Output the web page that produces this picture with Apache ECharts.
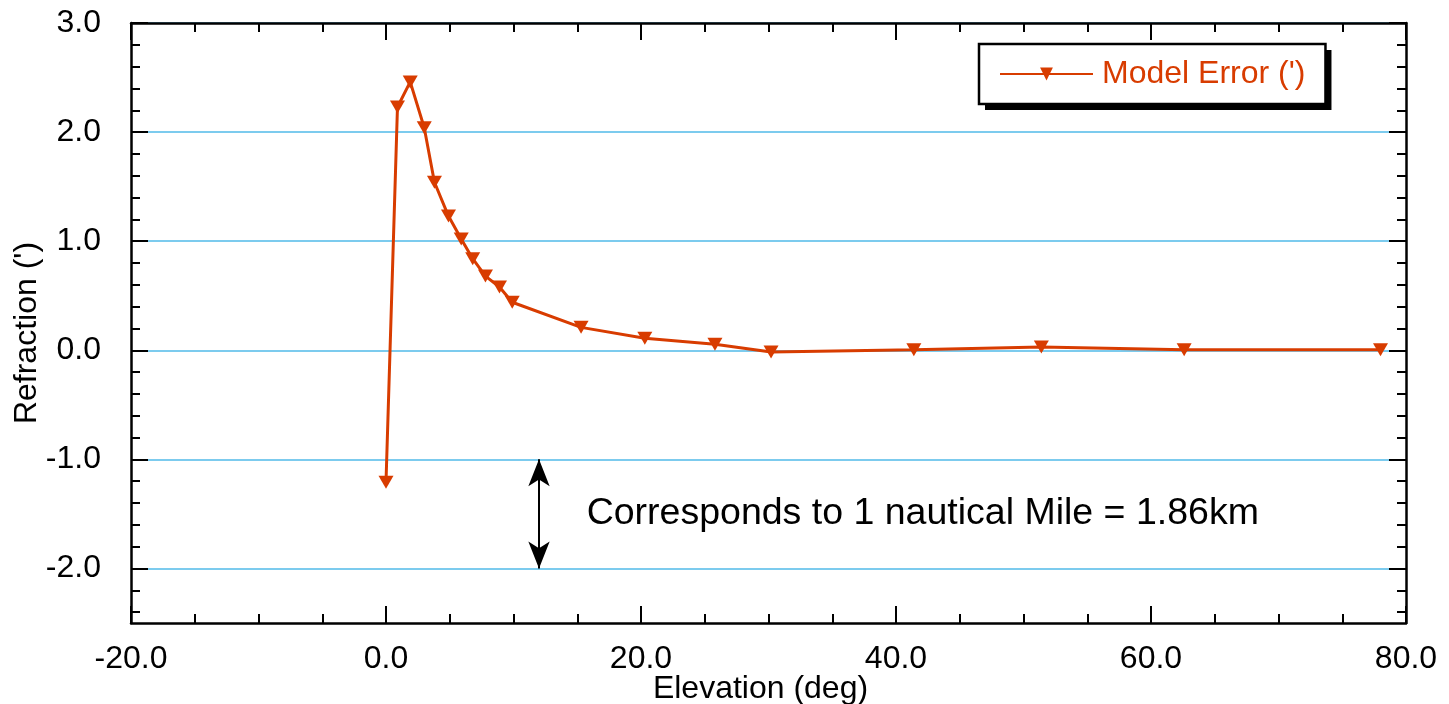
<!DOCTYPE html>
<html>
<head>
<meta charset="utf-8">
<script src="https://cdn.jsdelivr.net/npm/echarts@6/dist/echarts.min.js"></script>
<style>
html,body{margin:0;padding:0;background:#fff;}
#chart{width:1449px;height:704px;}
</style>
</head>
<body>
<div id="chart"></div>
<script>
// Data
const elevation = [0.0, 0.9, 1.9, 3.0, 3.8, 4.9, 5.9, 6.8, 7.8, 8.9, 9.9, 15.3, 20.3, 25.8, 30.2, 41.4, 51.4, 62.6, 78.0];
const modelError = [-1.21, 2.23, 2.46, 2.04, 1.54, 1.23, 1.02, 0.84, 0.68, 0.58, 0.44, 0.21, 0.11, 0.055, -0.015, 0.005, 0.03, 0.005, 0.005];
const seriesName = "Model Error (')";
const yMajorTicks = [-2, -1, 0, 1, 2, 3];
const yMinorTicks = [-2.4, -2.2, -1.8, -1.6, -1.4, -1.2, -0.8, -0.6, -0.4, -0.2, 0.2, 0.4, 0.6, 0.8, 1.2, 1.4, 1.6, 1.8, 2.2, 2.4, 2.6, 2.8];
const annotationText = 'Corresponds to 1 nautical Mile = 1.86km';
const arrowX = 12;
const arrowFrom = -1;
const arrowTo = -2;
const annotationPos = [15.7, -1.5];

const FONT = "'Liberation Sans', Arial, Helvetica, sans-serif";
const RED = '#d83c00';
const AXIS_LINE = { show: true, onZero: false, lineStyle: { color: '#000', width: 2.5 } };
const fmt = v => Number(v).toFixed(1);

const chart = echarts.init(document.getElementById('chart'));
const xBase = {
  type: 'value', min: -20, max: 80, interval: 20,
  axisLine: AXIS_LINE,
  axisTick: { show: true, inside: true, length: 17, lineStyle: { color: '#000', width: 2 } },
  minorTick: { show: true, splitNumber: 4, length: 9, lineStyle: { color: '#000', width: 2 } },
  splitLine: { show: false },
  minorSplitLine: { show: false }
};
const yBase = {
  type: 'value', min: -2.5, max: 3, splitNumber: 5,
  axisLine: AXIS_LINE,
  splitLine: { show: false }
};
const legendBase = {
  data: [seriesName],
  left: 979, top: 44,
  orient: 'horizontal',
  padding: [14, 20, 14, 20],
  itemWidth: 93, itemHeight: 16,
  selectedMode: false
};

chart.setOption({
  animation: false,
  textStyle: { fontFamily: FONT },
  grid: { left: 131, right: 43, top: 23, bottom: 81, containLabel: false, outerBoundsMode: 'none' },
  legend: [
    // shadow box (drawn behind, content hidden)
    Object.assign({}, legendBase, {
      z: 3,
      backgroundColor: '#fff', borderWidth: 0,
      shadowColor: '#000', shadowBlur: 0, shadowOffsetX: 6, shadowOffsetY: 6,
      textStyle: { color: 'rgba(0,0,0,0)', fontSize: 32, fontFamily: FONT, padding: [0, 0, 0, 4] },
      itemStyle: { opacity: 0 }, lineStyle: { opacity: 0 }
    }),
    // visible bordered legend
    Object.assign({}, legendBase, {
      z: 4,
      backgroundColor: 'rgba(0,0,0,0)',
      borderColor: '#000', borderWidth: 2.5,
      textStyle: { color: RED, fontSize: 32, fontFamily: FONT, padding: [0, 0, 0, 4] }
    })
  ],
  xAxis: [
    Object.assign({}, xBase, {
      position: 'bottom',
      axisLabel: { show: true, fontSize: 32, color: '#000', margin: 20, formatter: fmt, fontFamily: FONT },
      name: 'Elevation (deg)', nameLocation: 'middle', nameGap: 50, nameMoveOverlap: false,
      nameTextStyle: { fontSize: 32, color: '#000', fontFamily: FONT, padding: [0, 16, 0, 0] }
    }),
    Object.assign({}, xBase, { position: 'top', axisLabel: { show: false } })
  ],
  yAxis: [
    Object.assign({}, yBase, {
      position: 'left',
      axisTick: { show: true, inside: true, length: 17, customValues: yMajorTicks, lineStyle: { color: '#000', width: 2 } },
      axisLabel: { show: true, customValues: yMajorTicks, fontSize: 32, color: '#000', margin: 30, formatter: fmt, fontFamily: FONT },
      splitLine: { show: true, lineStyle: { color: '#7ccbee', width: 2 } },
      name: "Refraction (')", nameLocation: 'middle', nameGap: 88, nameMoveOverlap: false,
      nameTextStyle: { fontSize: 32, color: '#000', fontFamily: FONT, padding: [0, 20, 0, 0] }
    }),
    Object.assign({}, yBase, {
      position: 'left',
      axisLine: { show: false, onZero: false },
      axisTick: { show: true, inside: true, length: 9, customValues: yMinorTicks, lineStyle: { color: '#000', width: 2 } },
      axisLabel: { show: false }
    }),
    Object.assign({}, yBase, {
      position: 'right',
      axisTick: { show: true, inside: true, length: 17, customValues: yMajorTicks, lineStyle: { color: '#000', width: 2 } },
      axisLabel: { show: false }
    }),
    Object.assign({}, yBase, {
      position: 'right',
      axisLine: { show: false, onZero: false },
      axisTick: { show: true, inside: true, length: 9, customValues: yMinorTicks, lineStyle: { color: '#000', width: 2 } },
      axisLabel: { show: false }
    })
  ],
  series: [{
    name: seriesName,
    type: 'line',
    xAxisIndex: 0, yAxisIndex: 0,
    data: elevation.map((x, i) => [x, modelError[i]]),
    symbol: 'triangle', symbolRotate: 180, symbolSize: [15, 13],
    showSymbol: true,
    lineStyle: { color: RED, width: 3 },
    itemStyle: { color: RED },
    z: 5,
    markLine: {
      silent: true,
      symbol: ['arrow', 'arrow'],
      symbolSize: [16, 27],
      lineStyle: { color: '#000', width: 2, type: 'solid' },
      label: { show: false },
      data: [[{ coord: [arrowX, arrowFrom] }, { coord: [arrowX, arrowTo] }]]
    },
    markPoint: {
      silent: true,
      symbol: 'circle', symbolSize: 1,
      itemStyle: { color: 'rgba(0,0,0,0)' },
      label: { show: true, position: 'right', distance: 0, formatter: annotationText, fontSize: 37.5, color: '#000', fontFamily: FONT },
      data: [{ coord: annotationPos }]
    }
  }]
});
</script>
</body>
</html>
